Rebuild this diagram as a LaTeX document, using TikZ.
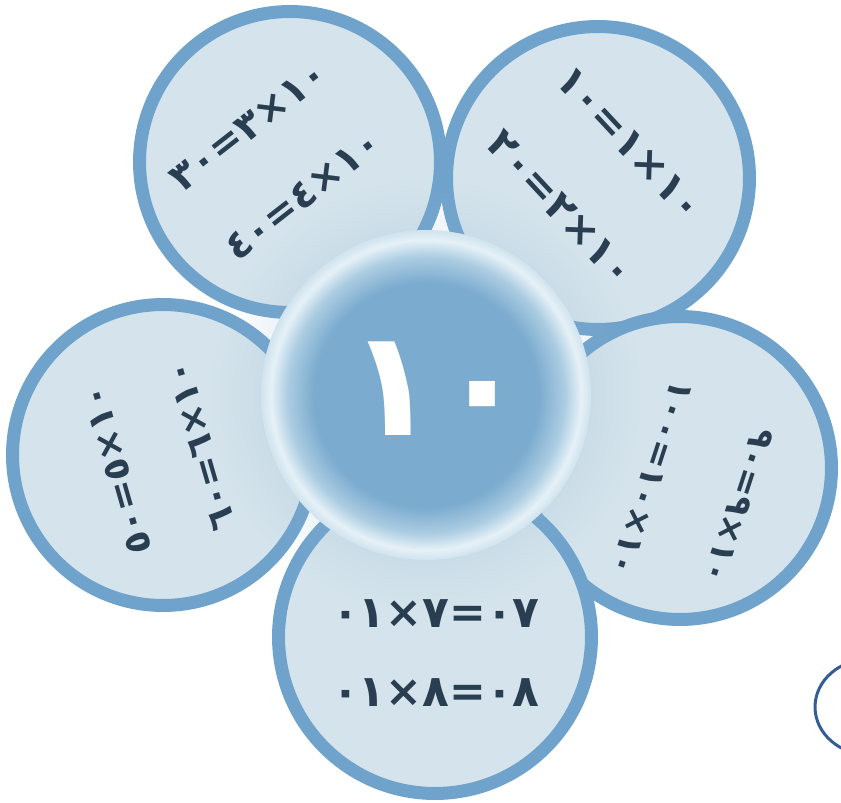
\documentclass[tikz,border=0pt]{standalone}
\usepackage{fontspec}
\newfontfamily\digitfont{DejaVu Sans}
\usetikzlibrary{fadings}

\definecolor{petalfill}{RGB}{213,228,236}
\definecolor{petalline}{RGB}{112,163,204}
\definecolor{sumtext}{RGB}{42,62,82}
\definecolor{halocol}{RGB}{140,178,206}
\definecolor{coreblue}{RGB}{123,171,207}
\definecolor{glowmid}{RGB}{172,205,226}
\definecolor{glowrim}{RGB}{230,241,247}
\definecolor{rimedge}{RGB}{208,227,238}
\definecolor{ovalline}{RGB}{52,92,150}

\pgfdeclareradialshading{centreglow}{\pgfpointorigin}{color(0bp)=(coreblue); color(17bp)=(coreblue); color(21bp)=(glowmid); color(23.5bp)=(glowrim); color(25bp)=(rimedge); color(50bp)=(rimedge)}
\tikzfading[name=halofade, inner color=transparent!40, outer color=transparent!100]

\newcommand\mul{\kern0pt×\kern0pt}
\newcommand\eqs{\kern0pt=\kern0pt}

\begin{document}
\begin{tikzpicture}[x=0.02cm, y=-0.02cm,
    petal/.style={circle, draw=petalline, line width=0.26cm, fill=petalfill, inner sep=0pt},
    sums/.style n args={2}{font=\digitfont\bfseries\fontsize{#1}{#2}\selectfont, text=sumtext, align=center, inner sep=0pt},
    hubtext/.style={font=\digitfont\bfseries\fontsize{84}{88}\selectfont, text=white, inner sep=0pt}
  ]
  \useasboundingbox (0,0) rectangle (841,803);
  \clip (0,0) rectangle (841,803);
  % petals
  \node[petal, minimum size=6.02cm] (tl) at (290,162) {};
  \node[petal, minimum size=6.06cm] (tr) at (598,178) {};
  \node[petal, minimum size=6.02cm] (lf) at (163,455) {};
  \node[petal, minimum size=6.06cm] (rt) at (680,468) {};
  \node[petal, minimum size=6.26cm] (bt) at (435,637) {};
  % shadow round the hub
  \fill[halocol, path fading=halofade] (426,395) circle [radius=4.3cm];
  \node[circle, minimum size=6.6cm, inner sep=0pt, shading=centreglow] (hub) at (426,395) {};
  \node[hubtext] (ten) at (hub) [xshift=0.24cm, yshift=0.12cm] {١٠};
  % the sums
  \node[sums={22.5}{50}, rotate=38] (tlsums) at (276,161) {٣٠\eqs٣\mul١٠\\٤٠\eqs٤\mul١٠};
  \node[sums={23.5}{54}, rotate=-47] (trsums) at (595,176) {١٠\eqs١\mul١٠\\٢٠\eqs٢\mul١٠};
  \node[sums={21}{50}, rotate=106] (lfsums) at (159,458) {٥٠\eqs٥\mul١٠\\٦٠\eqs٦\mul١٠};
  \node[sums={19.5}{52}, rotate=-108] (rtsums) at (695,492) {٩٠\eqs٩\mul١٠\\١٠٠\eqs١٠\mul١٠};
  \node[sums={25}{45}] (btsums) at (436,653) {٠١\mul٧\eqs٠٧\\٠١\mul٨\eqs٠٨};
  % stray oval at the edge
  \draw[ovalline, line width=0.06cm] (870,707) ellipse [x radius=1.1cm, y radius=0.96cm];
\end{tikzpicture}
\end{document}
